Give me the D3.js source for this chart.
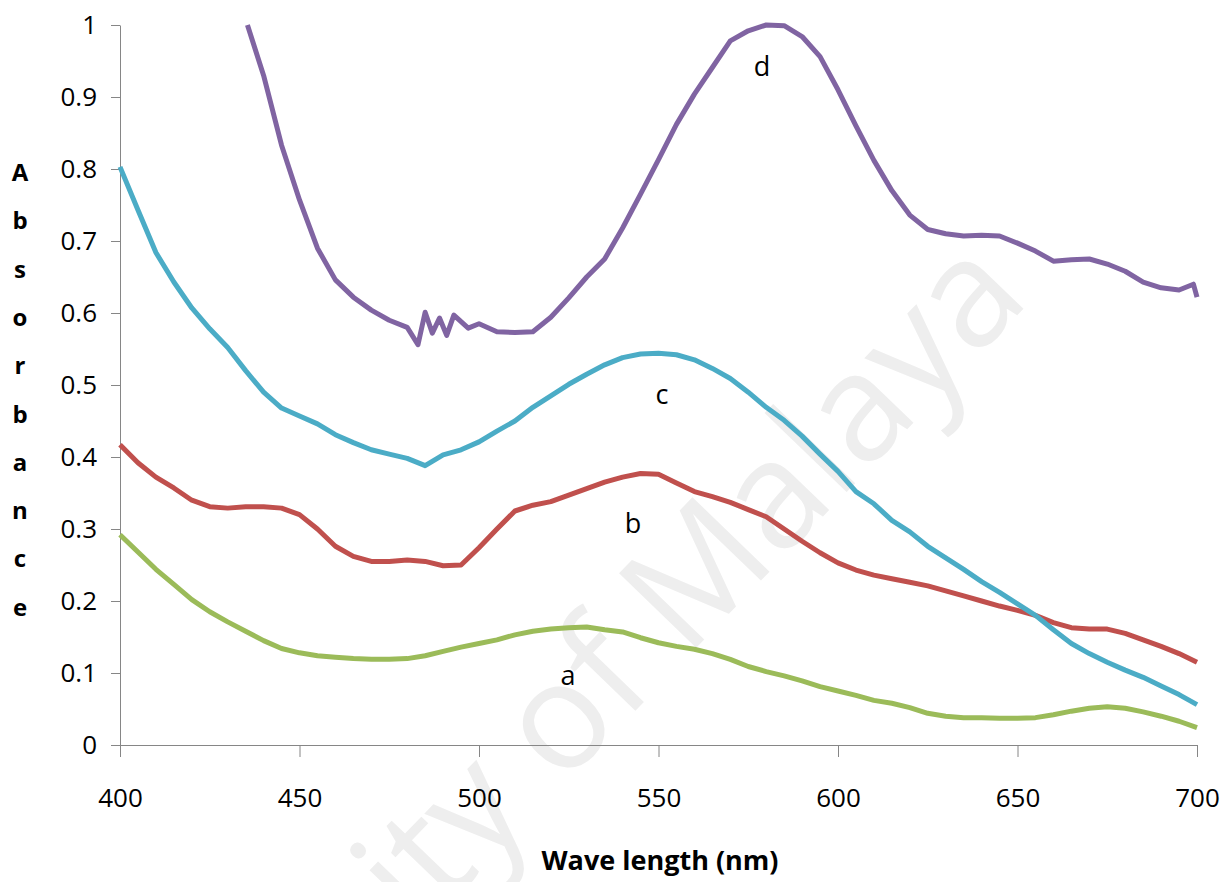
<!DOCTYPE html>
<html>
<head>
<meta charset="utf-8">
<script src="https://cdn.jsdelivr.net/npm/d3@7"></script>
<style>
  body { margin: 0; background: #fff; }
  svg text { font-family: "Open Sans", sans-serif; }
</style>
</head>
<body>
<div id="chart"></div>
<script>
// wavelength grid (nm) shared by curves a, b, c
const waves = [400, 405, 410, 415, 420, 425, 430, 435, 440, 445, 450, 455, 460, 465, 470, 475,
               480, 485, 490, 495, 500, 505, 510, 515, 520, 525, 530, 535, 540, 545, 550, 555,
               560, 565, 570, 575, 580, 585, 590, 595, 600, 605, 610, 615, 620, 625, 630, 635,
               640, 645, 650, 655, 660, 665, 670, 675, 680, 685, 690, 695, 700];

const absA = [0.292, 0.268, 0.244, 0.223, 0.202, 0.185, 0.171, 0.158, 0.145, 0.134, 0.128, 0.124,
              0.122, 0.120, 0.119, 0.119, 0.120, 0.124, 0.130, 0.136, 0.141, 0.146, 0.153, 0.158,
              0.161, 0.163, 0.164, 0.160, 0.157, 0.149, 0.142, 0.137, 0.133, 0.127, 0.119, 0.109,
              0.102, 0.096, 0.089, 0.081, 0.075, 0.069, 0.062, 0.058, 0.052, 0.044, 0.040, 0.038,
              0.038, 0.037, 0.037, 0.038, 0.042, 0.047, 0.051, 0.053, 0.051, 0.046, 0.040, 0.033, 0.024];

const absB = [0.417, 0.392, 0.372, 0.357, 0.340, 0.331, 0.329, 0.331, 0.331, 0.329, 0.320, 0.300,
              0.276, 0.262, 0.255, 0.255, 0.257, 0.255, 0.249, 0.250, 0.274, 0.300, 0.325, 0.333,
              0.338, 0.347, 0.356, 0.365, 0.372, 0.377, 0.376, 0.364, 0.352, 0.345, 0.337, 0.327,
              0.317, 0.300, 0.283, 0.267, 0.253, 0.243, 0.236, 0.231, 0.226, 0.221, 0.214, 0.207,
              0.200, 0.193, 0.187, 0.180, 0.170, 0.163, 0.161, 0.161, 0.155, 0.146, 0.137, 0.127, 0.115];

const absC = [0.803, 0.743, 0.684, 0.643, 0.607, 0.578, 0.552, 0.520, 0.490, 0.468, 0.457, 0.446,
              0.431, 0.420, 0.410, 0.404, 0.398, 0.388, 0.403, 0.410, 0.421, 0.436, 0.450, 0.469,
              0.485, 0.501, 0.515, 0.528, 0.538, 0.543, 0.544, 0.542, 0.535, 0.523, 0.509, 0.490,
              0.469, 0.451, 0.429, 0.404, 0.380, 0.352, 0.335, 0.312, 0.296, 0.276, 0.260, 0.244,
              0.227, 0.212, 0.196, 0.180, 0.160, 0.141, 0.127, 0.115, 0.104, 0.094, 0.082, 0.070, 0.056];

// curve d runs off the top of the axis, so it has its own wavelengths
const wavesD = [435.5, 440, 445, 450, 455, 460, 465, 470, 475, 480, 483, 485, 487, 489, 491, 493,
                497, 500, 505, 510, 515, 520, 525, 530, 535, 540, 545, 550, 555, 560, 565, 570,
                575, 580, 585, 590, 595, 600, 605, 610, 615, 620, 625, 630, 635, 640, 645, 650,
                655, 660, 665, 670, 675, 680, 685, 690, 695, 699, 700];
const absD = [1.000, 0.930, 0.833, 0.757, 0.690, 0.646, 0.622, 0.604, 0.590, 0.580, 0.556, 0.601,
              0.572, 0.593, 0.569, 0.597, 0.579, 0.585, 0.574, 0.573, 0.574, 0.594, 0.621, 0.650,
              0.675, 0.718, 0.765, 0.813, 0.862, 0.904, 0.941, 0.978, 0.992, 1.000, 0.999, 0.984,
              0.956, 0.910, 0.860, 0.812, 0.770, 0.736, 0.716, 0.710, 0.707, 0.708, 0.707, 0.697,
              0.686, 0.672, 0.674, 0.675, 0.668, 0.658, 0.643, 0.635, 0.632, 0.640, 0.622];

const xTicks = [400, 450, 500, 550, 600, 650, 700];
const yTicks = [0, 0.1, 0.2, 0.3, 0.4, 0.5, 0.6, 0.7, 0.8, 0.9, 1];

const seriesNames  = ['a', 'b', 'c', 'd'];
const seriesColors = ['#9BBB59', '#C0504D', '#4BACC6', '#8064A2'];
// label baselines in data units
const labelWave = [524.8, 542.9, 551.0, 578.8];
const labelAbs  = [0.083, 0.294, 0.473, 0.929];

const yTitle = 'Absorbance';
const xTitle = 'Wave length (nm)';
const watermark = 'University of Malaya';


const width  = 1222,
      height = 882,
      margin = {top: 25, right: 25, bottom: 137, left: 120};

const svg = d3.select('#chart')
    .append('svg')
      .attr('width',  width)
      .attr('height', height);

// faint watermark behind everything
svg.append('text')
    .attr('transform', 'translate(1032, 300) rotate(-46)')
    .attr('text-anchor', 'end')
    .style('font-size', '150px')
    .style('fill', '#eeeeee')
    .text(watermark);

const x = d3.scaleLinear()
    .domain([400, 700])
    .range([margin.left, width - margin.right]);

const y = d3.scaleLinear()
    .domain([0, 1])
    .range([height - margin.bottom, margin.top]);

// x axis
const gx = svg.append('g')
    .attr('transform', `translate(0, ${height - margin.bottom})`)
    .call(d3.axisBottom(x).tickValues(xTicks).tickSizeInner(12).tickSizeOuter(0).tickPadding(32));

// y axis
const gy = svg.append('g')
    .attr('transform', `translate(${margin.left}, 0)`)
    .call(d3.axisLeft(y).tickValues(yTicks).tickSizeInner(9).tickSizeOuter(0).tickPadding(14)
          .tickFormat(d3.format('~g')));

[gx, gy].forEach(g => {
    g.select('.domain').attr('stroke', '#868686');
    g.selectAll('.tick line').attr('stroke', '#868686');
    g.selectAll('.tick text')
        .style('font-family', '"Open Sans", sans-serif')
        .style('font-size', '26px')
        .style('fill', '#000');
});

// curves
const line = d3.line()
    .x(d => x(d[0]))
    .y(d => y(d[1]));

const curves = [
    d3.zip(waves, absA),
    d3.zip(waves, absB),
    d3.zip(waves, absC),
    d3.zip(wavesD, absD)
];

svg.append('g')
    .selectAll('path')
    .data(curves)
    .enter()
    .append('path')
      .attr('d', line)
      .attr('fill', 'none')
      .attr('stroke', (d, i) => seriesColors[i])
      .attr('stroke-width', 5)
      .attr('stroke-linejoin', 'round');

// curve labels
svg.append('g')
    .selectAll('text')
    .data(seriesNames)
    .enter()
    .append('text')
      .attr('x', (d, i) => x(labelWave[i]))
      .attr('y', (d, i) => y(labelAbs[i]))
      .attr('text-anchor', 'middle')
      .style('font-size', '27px')
      .text(d => d);

// y title, one letter per row
svg.append('g')
    .selectAll('text')
    .data(yTitle.split(''))
    .enter()
    .append('text')
      .attr('x', 20)
      .attr('y', (d, i) => 181 + i * 48.3)
      .attr('text-anchor', 'middle')
      .style('font-size', '24px')
      .style('font-weight', 'bold')
      .text(d => d);

// x title
svg.append('text')
    .attr('x', 660)
    .attr('y', 870)
    .attr('text-anchor', 'middle')
    .style('font-size', '27px')
    .style('font-weight', 'bold')
    .text(xTitle);
</script>
</body>
</html>
